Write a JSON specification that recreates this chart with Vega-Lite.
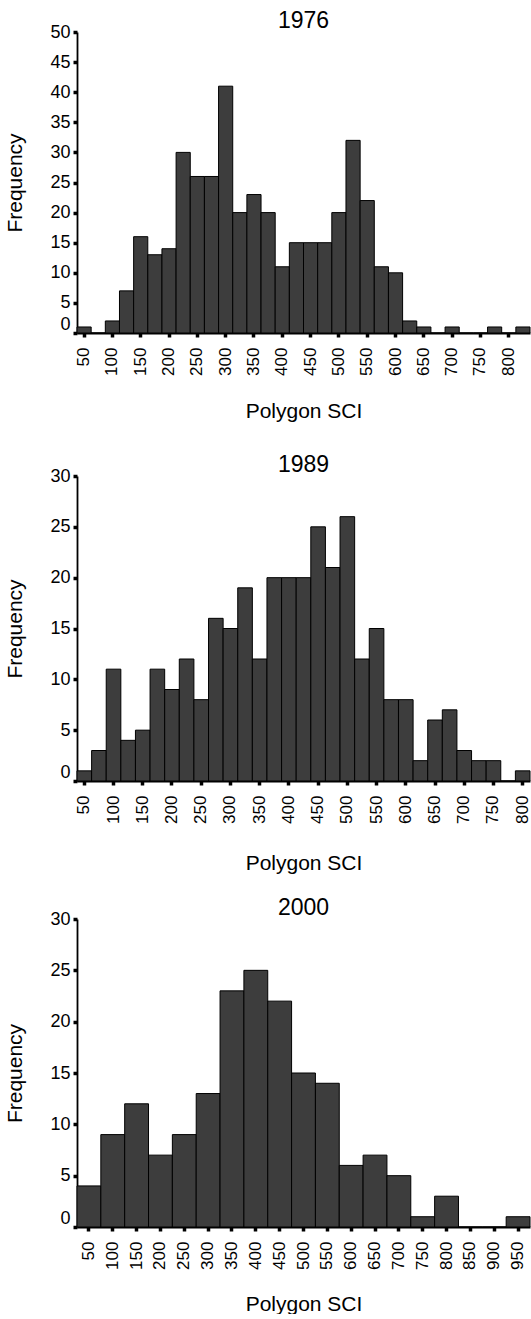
{
  "$schema": "https://vega.github.io/schema/vega-lite/v6.json",
  "padding": {"left": 4, "top": 10, "right": 0, "bottom": 0},
  "background": "white",
  "datasets": {
    "y1976": [
      {"sci": 50, "freq": 1}, {"sci": 75, "freq": 0}, {"sci": 100, "freq": 2}, {"sci": 125, "freq": 7},
      {"sci": 150, "freq": 16}, {"sci": 175, "freq": 13}, {"sci": 200, "freq": 14}, {"sci": 225, "freq": 30},
      {"sci": 250, "freq": 26}, {"sci": 275, "freq": 26}, {"sci": 300, "freq": 41}, {"sci": 325, "freq": 20},
      {"sci": 350, "freq": 23}, {"sci": 375, "freq": 20}, {"sci": 400, "freq": 11}, {"sci": 425, "freq": 15},
      {"sci": 450, "freq": 15}, {"sci": 475, "freq": 15}, {"sci": 500, "freq": 20}, {"sci": 525, "freq": 32},
      {"sci": 550, "freq": 22}, {"sci": 575, "freq": 11}, {"sci": 600, "freq": 10}, {"sci": 625, "freq": 2},
      {"sci": 650, "freq": 1}, {"sci": 675, "freq": 0}, {"sci": 700, "freq": 1}, {"sci": 725, "freq": 0},
      {"sci": 750, "freq": 0}, {"sci": 775, "freq": 1}, {"sci": 800, "freq": 0}, {"sci": 825, "freq": 1}
    ],
    "y1989": [
      {"sci": 50, "freq": 1}, {"sci": 75, "freq": 3}, {"sci": 100, "freq": 11}, {"sci": 125, "freq": 4},
      {"sci": 150, "freq": 5}, {"sci": 175, "freq": 11}, {"sci": 200, "freq": 9}, {"sci": 225, "freq": 12},
      {"sci": 250, "freq": 8}, {"sci": 275, "freq": 16}, {"sci": 300, "freq": 15}, {"sci": 325, "freq": 19},
      {"sci": 350, "freq": 12}, {"sci": 375, "freq": 20}, {"sci": 400, "freq": 20}, {"sci": 425, "freq": 20},
      {"sci": 450, "freq": 25}, {"sci": 475, "freq": 21}, {"sci": 500, "freq": 26}, {"sci": 525, "freq": 12},
      {"sci": 550, "freq": 15}, {"sci": 575, "freq": 8}, {"sci": 600, "freq": 8}, {"sci": 625, "freq": 2},
      {"sci": 650, "freq": 6}, {"sci": 675, "freq": 7}, {"sci": 700, "freq": 3}, {"sci": 725, "freq": 2},
      {"sci": 750, "freq": 2}, {"sci": 775, "freq": 0}, {"sci": 800, "freq": 1}
    ],
    "y2000": [
      {"sci": 50, "freq": 4}, {"sci": 100, "freq": 9}, {"sci": 150, "freq": 12}, {"sci": 200, "freq": 7},
      {"sci": 250, "freq": 9}, {"sci": 300, "freq": 13}, {"sci": 350, "freq": 23}, {"sci": 400, "freq": 25},
      {"sci": 450, "freq": 22}, {"sci": 500, "freq": 15}, {"sci": 550, "freq": 14}, {"sci": 600, "freq": 6},
      {"sci": 650, "freq": 7}, {"sci": 700, "freq": 5}, {"sci": 750, "freq": 1}, {"sci": 800, "freq": 3},
      {"sci": 850, "freq": 0}, {"sci": 900, "freq": 0}, {"sci": 950, "freq": 1}
    ]
  },
  "config": {
    "font": "Liberation Sans",
    "view": {"stroke": null},
    "axis": {
      "grid": false,
      "domainColor": "#000",
      "domainWidth": 1.8,
      "tickColor": "#000",
      "tickWidth": 3.5,
      "tickSize": 4,
      "labelColor": "#000",
      "labelFont": "Liberation Sans",
      "titleFont": "Liberation Sans",
      "titleColor": "#000",
      "titleFontWeight": "normal",
      "titleFontSize": 21
    },
    "axisX": {"labelAngle": -90, "labelFontSize": 17, "labelPadding": 10, "title": "Polygon SCI", "titleBaseline": "middle"},
    "axisY": {"labelFontSize": 18, "labelPadding": 3, "titlePadding": 24,
      "labelBaseline": {"condition": {"test": "datum.value === 0", "value": "bottom"}, "value": "middle"}},
    "title": {"font": "Liberation Sans", "fontSize": 23, "fontWeight": "normal", "color": "#000", "frame": "group", "anchor": "middle", "offset": -10}
  },
  "spacing": 24,
  "vconcat": [
    {
      "spacing": 33,
      "vconcat": [
        {
          "title": "1976",
          "width": 453, "height": 301,
          "data": {"name": "y1976"},
          "mark": {"type": "bar", "fill": "#3d3d3d", "stroke": "#000", "strokeWidth": 1},
          "encoding": {
            "x": {"field": "sci", "type": "ordinal", "scale": {"paddingInner": 0, "paddingOuter": 0},
              "axis": {"values": [50,100,150,200,250,300,350,400,450,500,550,600,650,700,750,800], "title": "Polygon SCI", "titleY": 78}},
            "y": {"field": "freq", "type": "quantitative", "scale": {"domain": [0, 50]},
              "axis": {"values": [0,5,10,15,20,25,30,35,40,45,50], "title": "Frequency"}}
          }
        },
        {
          "title": "1989",
          "width": 453, "height": 305,
          "data": {"name": "y1989"},
          "mark": {"type": "bar", "fill": "#3d3d3d", "stroke": "#000", "strokeWidth": 1},
          "encoding": {
            "x": {"field": "sci", "type": "ordinal", "scale": {"paddingInner": 0, "paddingOuter": 0},
              "axis": {"values": [50,100,150,200,250,300,350,400,450,500,550,600,650,700,750,800], "title": "Polygon SCI", "titleY": 82}},
            "y": {"field": "freq", "type": "quantitative", "scale": {"domain": [0, 30]},
              "axis": {"values": [0,5,10,15,20,25,30], "title": "Frequency"}}
          }
        }
      ]
    },
    {
      "title": "2000",
      "width": 453, "height": 308,
      "data": {"name": "y2000"},
      "mark": {"type": "bar", "fill": "#3d3d3d", "stroke": "#000", "strokeWidth": 1},
      "encoding": {
        "x": {"field": "sci", "type": "ordinal", "scale": {"paddingInner": 0, "paddingOuter": 0},
          "axis": {"values": [50,100,150,200,250,300,350,400,450,500,550,600,650,700,750,800,850,900,950], "title": "Polygon SCI", "titleY": 77}},
        "y": {"field": "freq", "type": "quantitative", "scale": {"domain": [0, 30]},
          "axis": {"values": [0,5,10,15,20,25,30], "title": "Frequency"}}
      }
    }
  ]
}
